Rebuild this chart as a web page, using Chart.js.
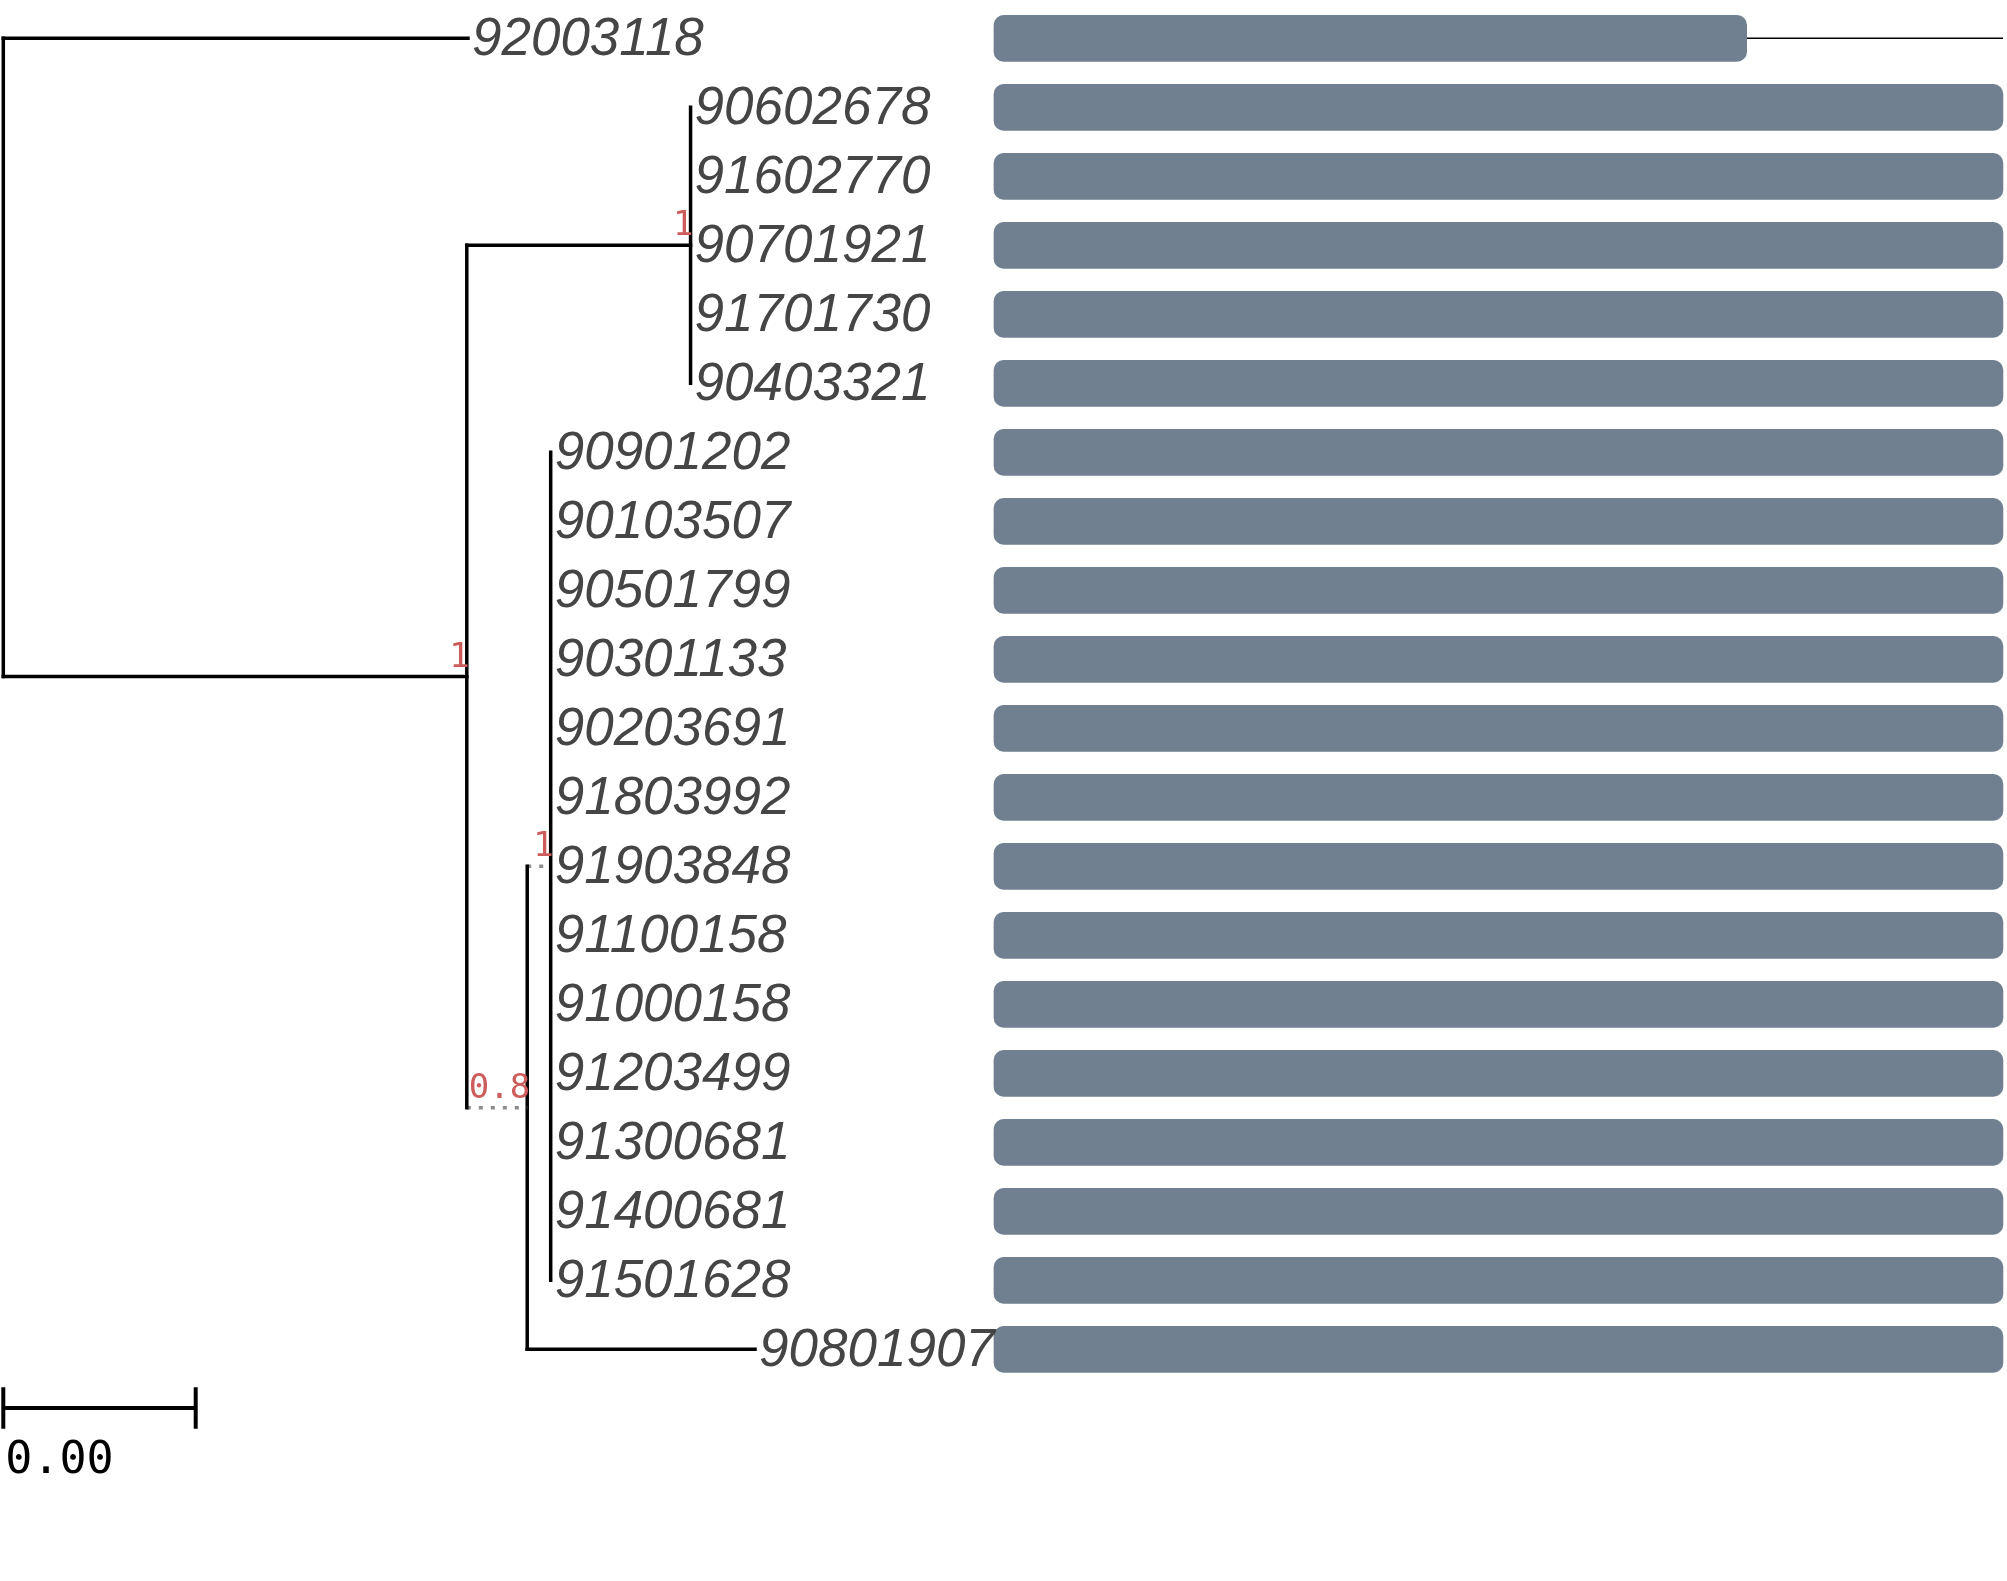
<!DOCTYPE html>
<html>
<head>
<meta charset="utf-8">
<script src="https://cdn.jsdelivr.net/npm/chart.js@4/dist/chart.umd.min.js"></script>
<style>
  html, body { margin: 0; padding: 0; background: #fff; overflow: hidden; }
  #wrap { width: 2007px; height: 1581px; position: relative; }
</style>
</head>
<body>
<div id="wrap"><canvas id="treeChart"></canvas></div>
<script>
// tips, top to bottom
const tips = ['92003118','90602678','91602770','90701921','91701730','90403321',
  '90901202','90103507','90501799','90301133','90203691','91803992','91903848',
  '91100158','91000158','91203499','91300681','91400681','91501628','90801907'];
const tipParent = ['root','n2','n2','n2','n2','n2',
  'n4','n4','n4','n4','n4','n4','n4','n4','n4','n4','n4','n4','n4','n3'];
const tipBranch = [0.002415,0,0,0,0,0, 0,0,0,0,0,0,0,0,0,0,0,0,0, 0.001184];

// internal nodes
const nodes = ['root','n1','n2','n3','n4'];
const nodeParent = [null,'root','n1','n1','n3'];
const nodeBranch = [0, 0.002409, 0.001163, 0.000314, 0.000122];
const nodeSupport = [null, 1, 1, 0.8, 1];

// gene track on the right
const geneEnd = [746,1000,1000,1000,1000,1000,1000,1000,1000,1000,1000,1000,1000,1000,1000,1000,1000,1000,1000,1000];
const seqLength = [1000,1000,1000,1000,1000,1000,1000,1000,1000,1000,1000,1000,1000,1000,1000,1000,1000,1000,1000,1000];

const scaleBar = 0.001;

// layout of the scale bar (in row units)
const scaleBarRow = 19.85;
const scaleTick = 0.3;
const scaleLabelRow = 20.79;

// depth of each node
const depth = {};
nodes.forEach((n, i) => {
  depth[n] = nodeParent[i] ? depth[nodeParent[i]] + nodeBranch[i] : 0;
});
const tipDepth = tips.map((t, i) => depth[tipParent[i]] + tipBranch[i]);

// y of each node = mean of its children
const ypos = {};
const kids = {};
nodes.forEach(n => kids[n] = []);
tips.forEach((t, i) => kids[tipParent[i]].push({ y: i, d: tipDepth[i], bl: tipBranch[i] }));
for (let i = nodes.length - 1; i >= 0; i--) {
  const n = nodes[i];
  nodes.forEach((m, j) => {
    if (nodeParent[j] === n) kids[n].push({ y: ypos[m], d: depth[m], bl: nodeBranch[j] });
  });
  ypos[n] = kids[n].reduce((s, k) => s + k.y, 0) / kids[n].length;
}

const segs = [];
nodes.forEach(n => {
  const ys = kids[n].map(k => k.y);
  segs.push({ pts: [{ x: depth[n], y: Math.min(...ys) }, { x: depth[n], y: Math.max(...ys) }], dotted: false });
  kids[n].forEach(k => {
    if (k.bl > 0) {
      segs.push({ pts: [{ x: depth[n], y: k.y }, { x: k.d, y: k.y }], dotted: k.bl < scaleBar / 2 });
    }
  });
});

const treeSets = segs.map(s => ({
  type: 'line',
  data: s.pts,
  xAxisID: 'x',
  yAxisID: 'y',
  borderColor: s.dotted ? '#8c8c8c' : '#000000',
  borderWidth: 3.5,
  borderDash: s.dotted ? [4, 8] : [],
  borderCapStyle: s.dotted ? 'butt' : 'square',
  pointRadius: 0,
  tension: 0,
  order: 1
}));

const gapSets = [];
tips.forEach((t, i) => {
  if (geneEnd[i] < seqLength[i]) {
    gapSets.push({
      type: 'line',
      data: [{ x: geneEnd[i], y: i }, { x: seqLength[i], y: i }],
      xAxisID: 'x2',
      yAxisID: 'y',
      borderColor: '#000000',
      borderWidth: 1.5,
      pointRadius: 0,
      order: 3
    });
  }
});

const scaleSets = [
  [{ x: 0, y: scaleBarRow }, { x: scaleBar, y: scaleBarRow }],
  [{ x: 0, y: scaleBarRow - scaleTick }, { x: 0, y: scaleBarRow + scaleTick }],
  [{ x: scaleBar, y: scaleBarRow - scaleTick }, { x: scaleBar, y: scaleBarRow + scaleTick }]
].map(p => ({
  type: 'line', data: p, xAxisID: 'x', yAxisID: 'y',
  borderColor: '#000000', borderWidth: 4, pointRadius: 0, order: 1
}));

const treeText = {
  id: 'treeText',
  afterDatasetsDraw(chart) {
    const c = chart.ctx;
    const xs = chart.scales.x, ys = chart.scales.y;
    c.save();
    // tip labels
    c.font = 'italic 53px "Liberation Sans"';
    c.fillStyle = '#454545';
    c.textAlign = 'left';
    c.textBaseline = 'middle';
    tips.forEach((t, i) => {
      c.fillText(t, xs.getPixelForValue(tipDepth[i]) + 4, ys.getPixelForValue(i) + 1.5);
    });
    // support values
    c.font = '34px "DejaVu Sans Mono"';
    c.fillStyle = '#cd5c5c';
    c.textAlign = 'right';
    c.textBaseline = 'alphabetic';
    nodes.forEach((n, i) => {
      if (nodeSupport[i] == null) return;
      c.fillText(String(nodeSupport[i]), xs.getPixelForValue(depth[n]) + 3, ys.getPixelForValue(ypos[n]) - 10);
    });
    // scale bar label
    c.font = '45px "DejaVu Sans Mono"';
    c.fillStyle = '#000000';
    c.textAlign = 'left';
    c.fillText(scaleBar.toFixed(2), xs.getPixelForValue(0) + 2, ys.getPixelForValue(scaleLabelRow));
    c.restore();
  }
};

const ctx = document.getElementById('treeChart');

const treeChart = new Chart(ctx, {
  type: 'bar',
  data: {
    datasets: [
      {
        type: 'bar',
        indexAxis: 'y',
        data: tips.map((t, i) => ({ y: i, x: [0, geneEnd[i]] })),
        xAxisID: 'x2',
        yAxisID: 'y',
        backgroundColor: '#708090',
        barThickness: 46,
        grouped: false,
        borderRadius: 10,
        borderSkipped: false,
        borderWidth: 0,
        order: 2
      },
      ...gapSets,
      ...treeSets,
      ...scaleSets
    ]
  },
  options: {
    responsive: true,
    maintainAspectRatio: false,
    devicePixelRatio: 1,
    animation: false,
    layout: { padding: 0, autoPadding: false },
    plugins: { legend: { display: false }, tooltip: { enabled: false } },
    scales: {
      x: { type: 'linear', display: false, offset: false, bounds: 'data', min: -0.00001715, max: 0.010414 },
      x2: { type: 'linear', axis: 'x', display: false, offset: false, bounds: 'data', min: -985.1, max: 1004.0 },
      y: { type: 'linear', display: false, offset: false, bounds: 'data', reverse: true, min: -0.5551, max: 22.358 }
    }
  },
  plugins: [treeText]
});
</script>
</body>
</html>
